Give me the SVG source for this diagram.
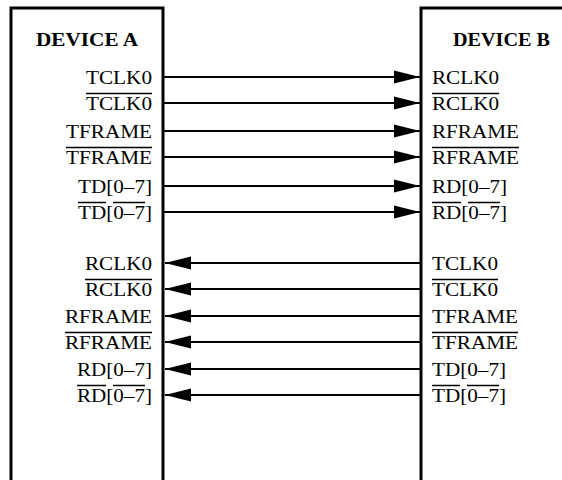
<svg xmlns="http://www.w3.org/2000/svg" width="562" height="480" viewBox="0 0 562 480">
<style>
.box{fill:none;stroke:#000;stroke-width:3}
.wire{stroke:#000;stroke-width:2;fill:none}
.fwd{marker-end:url(#ah)}
.title{font-family:"Liberation Serif",serif;font-weight:bold;font-size:19px;fill:#000}
.lbl{font-family:"Liberation Serif",serif;font-size:19.5px;fill:#000}
.bar{stroke:#000;stroke-width:1.5}
</style>
<defs>
<marker id="ah" markerUnits="userSpaceOnUse" markerWidth="28" markerHeight="16" refX="26" refY="8" orient="auto">
<path d="M0,1.5 L26,8 L0,14.5 Z" fill="#000"/>
</marker>
</defs>
<rect width="562" height="480" fill="#fff"/>
<g id="deviceA">
<path class="box" d="M11,482 V8 H163 V482"/>
<text class="title" x="36" y="46" textLength="102" lengthAdjust="spacingAndGlyphs">DEVICE A</text>
<text class="lbl" x="86" y="84" textLength="66" lengthAdjust="spacingAndGlyphs">TCLK0</text>
<text class="lbl" x="86" y="110" textLength="66" lengthAdjust="spacingAndGlyphs">TCLK0</text>
<line class="bar" x1="86" y1="93.5" x2="152" y2="93.5"/>
<text class="lbl" x="66" y="138" textLength="86" lengthAdjust="spacingAndGlyphs">TFRAME</text>
<text class="lbl" x="66" y="164" textLength="86" lengthAdjust="spacingAndGlyphs">TFRAME</text>
<line class="bar" x1="66" y1="147.5" x2="152" y2="147.5"/>
<text class="lbl" x="78" y="193" textLength="74" lengthAdjust="spacingAndGlyphs">TD[0–7]</text>
<text class="lbl" x="78" y="219" textLength="74" lengthAdjust="spacingAndGlyphs">TD[0–7]</text>
<line class="bar" x1="78" y1="202.5" x2="106" y2="202.5"/>
<line class="bar" x1="113" y1="202.5" x2="145" y2="202.5"/>
<text class="lbl" x="85" y="270" textLength="67" lengthAdjust="spacingAndGlyphs">RCLK0</text>
<text class="lbl" x="85" y="296" textLength="67" lengthAdjust="spacingAndGlyphs">RCLK0</text>
<line class="bar" x1="85" y1="279.5" x2="152" y2="279.5"/>
<text class="lbl" x="65" y="323" textLength="87" lengthAdjust="spacingAndGlyphs">RFRAME</text>
<text class="lbl" x="65" y="349" textLength="87" lengthAdjust="spacingAndGlyphs">RFRAME</text>
<line class="bar" x1="65" y1="332.5" x2="152" y2="332.5"/>
<text class="lbl" x="77" y="376" textLength="75" lengthAdjust="spacingAndGlyphs">RD[0–7]</text>
<text class="lbl" x="77" y="402" textLength="75" lengthAdjust="spacingAndGlyphs">RD[0–7]</text>
<line class="bar" x1="77" y1="385.5" x2="106" y2="385.5"/>
<line class="bar" x1="113" y1="385.5" x2="145" y2="385.5"/>
</g>
<g id="deviceB">
<path class="box" d="M421,482 V8 H565"/>
<text class="title" x="453" y="46" textLength="97" lengthAdjust="spacingAndGlyphs">DEVICE B</text>
<text class="lbl" x="432" y="84" textLength="67" lengthAdjust="spacingAndGlyphs">RCLK0</text>
<text class="lbl" x="432" y="110" textLength="67" lengthAdjust="spacingAndGlyphs">RCLK0</text>
<line class="bar" x1="432" y1="93.5" x2="499" y2="93.5"/>
<text class="lbl" x="432" y="138" textLength="87" lengthAdjust="spacingAndGlyphs">RFRAME</text>
<text class="lbl" x="432" y="164" textLength="87" lengthAdjust="spacingAndGlyphs">RFRAME</text>
<line class="bar" x1="432" y1="147.5" x2="519" y2="147.5"/>
<text class="lbl" x="432" y="193" textLength="75" lengthAdjust="spacingAndGlyphs">RD[0–7]</text>
<text class="lbl" x="432" y="219" textLength="75" lengthAdjust="spacingAndGlyphs">RD[0–7]</text>
<line class="bar" x1="432" y1="202.5" x2="461" y2="202.5"/>
<line class="bar" x1="468" y1="202.5" x2="500" y2="202.5"/>
<text class="lbl" x="432" y="270" textLength="66" lengthAdjust="spacingAndGlyphs">TCLK0</text>
<text class="lbl" x="432" y="296" textLength="66" lengthAdjust="spacingAndGlyphs">TCLK0</text>
<line class="bar" x1="432" y1="279.5" x2="498" y2="279.5"/>
<text class="lbl" x="432" y="323" textLength="86" lengthAdjust="spacingAndGlyphs">TFRAME</text>
<text class="lbl" x="432" y="349" textLength="86" lengthAdjust="spacingAndGlyphs">TFRAME</text>
<line class="bar" x1="432" y1="332.5" x2="518" y2="332.5"/>
<text class="lbl" x="432" y="376" textLength="74" lengthAdjust="spacingAndGlyphs">TD[0–7]</text>
<text class="lbl" x="432" y="402" textLength="74" lengthAdjust="spacingAndGlyphs">TD[0–7]</text>
<line class="bar" x1="432" y1="385.5" x2="460" y2="385.5"/>
<line class="bar" x1="467" y1="385.5" x2="499" y2="385.5"/>
</g>
<g id="connectors">
<line class="wire fwd" x1="164" y1="77" x2="420" y2="77"/>
<line class="wire fwd" x1="164" y1="103" x2="420" y2="103"/>
<line class="wire fwd" x1="164" y1="131" x2="420" y2="131"/>
<line class="wire fwd" x1="164" y1="157" x2="420" y2="157"/>
<line class="wire fwd" x1="164" y1="186" x2="420" y2="186"/>
<line class="wire fwd" x1="164" y1="212" x2="420" y2="212"/>
<line class="wire fwd" x1="420" y1="263" x2="165" y2="263"/>
<line class="wire fwd" x1="420" y1="289" x2="165" y2="289"/>
<line class="wire fwd" x1="420" y1="316" x2="165" y2="316"/>
<line class="wire fwd" x1="420" y1="342" x2="165" y2="342"/>
<line class="wire fwd" x1="420" y1="369" x2="165" y2="369"/>
<line class="wire fwd" x1="420" y1="395" x2="165" y2="395"/>
</g>
</svg>
